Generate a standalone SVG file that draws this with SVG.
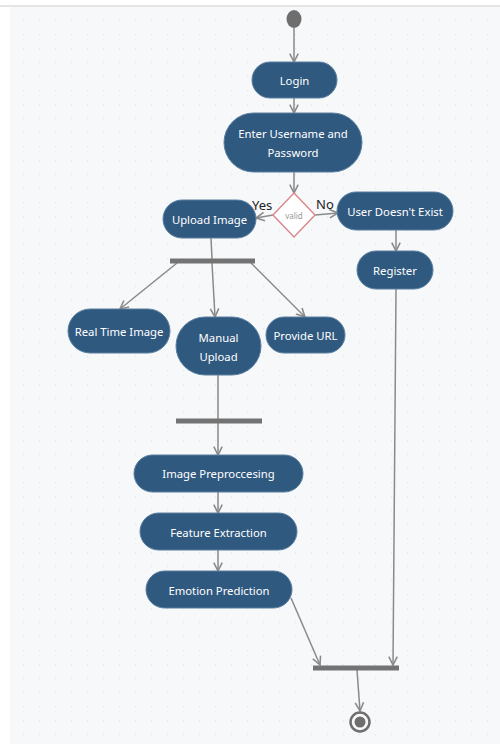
<svg xmlns="http://www.w3.org/2000/svg" width="500" height="744" viewBox="0 0 500 744">
<style>
.n{fill:#30597f;stroke:#5a7fa0;stroke-width:1}
.t{fill:#ffffff;font-family:"Noto Sans","Open Sans",sans-serif;font-size:11.3px;text-anchor:middle;dominant-baseline:central}
.c{fill:none;stroke:#8a8a8a;stroke-width:1.5}
.bar{fill:#737373}
.lbl{fill:#222;font-family:"Noto Sans","Open Sans",sans-serif;font-size:13px;dominant-baseline:central}
</style>
<defs>
<pattern id="dots" width="16" height="14" patternUnits="userSpaceOnUse">
<rect x="7" y="6" width="1.2" height="1.2" fill="#e1e4ea"/>
</pattern>
<marker id="a" viewBox="0 0 10 10" refX="9" refY="5" markerWidth="7" markerHeight="7" orient="auto">
<path d="M1,1 L9,5 L1,9" fill="none" stroke="#8a8a8a" stroke-width="1.5"/>
</marker>
</defs>
<rect width="500" height="744" fill="#ffffff"/>
<rect x="10" y="7" width="490" height="737" fill="#f7f8fa"/>
<rect x="10" y="7" width="490" height="737" fill="url(#dots)"/>
<line x1="0" y1="6" x2="500" y2="6" stroke="#dcdcdc" stroke-width="1.5"/>

<g id="connectors">
<line class="c" x1="294" y1="28" x2="294" y2="62" marker-end="url(#a)"/>
<line class="c" x1="294" y1="98" x2="294" y2="113" marker-end="url(#a)"/>
<line class="c" x1="294" y1="172" x2="294" y2="193" marker-end="url(#a)"/>
<line class="c" x1="273" y1="215" x2="256" y2="218" marker-end="url(#a)"/>
<line class="c" x1="315" y1="215" x2="338" y2="213" marker-end="url(#a)"/>
<line class="c" x1="396" y1="230" x2="396" y2="251" marker-end="url(#a)"/>
<line class="c" x1="211" y1="238" x2="212" y2="259"/>
<line class="c" x1="177" y1="263" x2="120" y2="309" marker-end="url(#a)"/>
<line class="c" x1="212" y1="263" x2="215" y2="317" marker-end="url(#a)"/>
<line class="c" x1="251" y1="263" x2="305" y2="317" marker-end="url(#a)"/>
<line class="c" x1="218" y1="375" x2="218" y2="419"/>
<line class="c" x1="218" y1="423" x2="218" y2="455" marker-end="url(#a)"/>
<line class="c" x1="218" y1="492" x2="218" y2="513" marker-end="url(#a)"/>
<line class="c" x1="218" y1="550" x2="218" y2="571" marker-end="url(#a)"/>
<line class="c" x1="291" y1="598" x2="320" y2="665" marker-end="url(#a)"/>
<line class="c" x1="396" y1="289" x2="393" y2="665" marker-end="url(#a)"/>
<line class="c" x1="357" y1="670" x2="360" y2="711" marker-end="url(#a)"/>
</g>

<g id="start"><ellipse cx="294" cy="19" rx="7.5" ry="9" fill="#6e6e6e"/></g>

<g id="login"><rect class="n" x="252" y="62" width="85" height="36" rx="18"/><text class="t" x="294.5" y="80">Login</text></g>

<g id="credentials"><rect class="n" x="224" y="113" width="138" height="59" rx="29.5"/><text class="t" x="293" y="133">Enter Username and</text><text class="t" x="293" y="152">Password</text></g>

<g id="valid"><polygon points="294,193 315,215 294,237 273,215" fill="#ffffff" stroke="#d98a8f" stroke-width="1.5"/><text x="294" y="215" fill="#999" font-family="Noto Sans,sans-serif" font-size="8" text-anchor="middle" dominant-baseline="central">valid</text></g>
<text class="lbl" x="252" y="205">Yes</text>
<text class="lbl" x="316" y="204">No</text>

<g id="upload"><rect class="n" x="163" y="200" width="93" height="38" rx="19"/><text class="t" x="209.5" y="219">Upload Image</text></g>

<g id="nouser"><rect class="n" x="337" y="192" width="116" height="38" rx="19"/><text class="t" x="395" y="211">User Doesn't Exist</text></g>

<g id="register"><rect class="n" x="357" y="251" width="76" height="38" rx="19"/><text class="t" x="395" y="270">Register</text></g>

<g id="fork1"><rect class="bar" x="170" y="258.5" width="85" height="5"/></g>

<g id="realtime"><rect class="n" x="68" y="309" width="102" height="44" rx="22"/><text class="t" x="119" y="331">Real Time Image</text></g>

<g id="manual"><rect class="n" x="176" y="317" width="85" height="58" rx="29"/><text class="t" x="218.5" y="337">Manual</text><text class="t" x="218.5" y="356">Upload</text></g>

<g id="url"><rect class="n" x="266" y="317" width="79" height="36" rx="18"/><text class="t" x="305.5" y="335">Provide URL</text></g>

<g id="join1"><rect class="bar" x="176" y="418.5" width="86" height="5"/></g>

<g id="preprocess"><rect class="n" x="134" y="455" width="169" height="37" rx="18.5"/><text class="t" x="218.5" y="473">Image Preproccesing</text></g>

<g id="feature"><rect class="n" x="140" y="513" width="157" height="37" rx="18.5"/><text class="t" x="218.5" y="532">Feature Extraction</text></g>

<g id="emotion"><rect class="n" x="146" y="571" width="146" height="37" rx="18.5"/><text class="t" x="219" y="590">Emotion Prediction</text></g>

<g id="join2"><rect class="bar" x="313" y="665.5" width="86" height="5"/></g>

<g id="end"><circle cx="360" cy="722" r="9.5" fill="none" stroke="#6e6e6e" stroke-width="2.5"/><circle cx="360" cy="722" r="5.5" fill="#6e6e6e"/></g>
</svg>
